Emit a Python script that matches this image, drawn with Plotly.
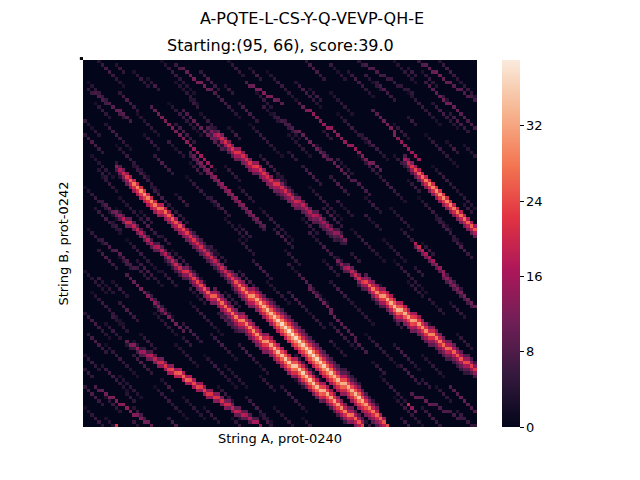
import numpy as np
import plotly.graph_objects as go

# Score matrix size (rows = String B, cols = String A)
n_rows = 105
n_cols = 112

title = "A-PQTE-L-CS-Y-Q-VEVP-QH-E"
subtitle = "Starting:(95, 66), score:39.0"
x_label = "String A, prot-0240"
y_label = "String B, prot-0242"
cbar_ticks = [0, 8, 16, 24, 32]
z_max = 39.0

# --- main alignment diagonals: core values read along each diagonal ---
sA = [14, 17, 20, 23, 26, 28, 29, 30, 30, 29, 29, 28, 28, 27, 27, 26, 26, 25, 25,
      24, 23, 22, 22, 21, 21, 20, 20, 20, 19, 19, 20, 20, 21, 23, 25, 27, 28, 29, 30, 31,
      32, 33, 33, 34, 34, 35, 36, 37, 37, 38, 38, 37, 37, 36, 36, 37, 37, 37, 36, 36, 35,
      35, 34, 34, 33, 33, 33, 33, 34, 35, 33, 31, 29, 28, 27, 26, 25, 24]
sA_p1 = [7, 10, 13, 16, 19, 21, 22, 23, 23, 22, 22, 21, 21, 20, 20, 19, 19, 18, 18,
         17, 16, 15, 15, 14, 14, 13, 13, 13, 12, 12, 13, 13, 14, 16, 18, 20, 21, 22, 23, 24,
         25, 26, 26, 27, 27, 28, 29, 30, 30, 31, 31, 30, 30, 29, 29, 30, 30, 30, 29, 29, 28,
         28, 27, 27, 26, 26, 26, 26, 27, 28, 26, 24, 22, 21, 20, 19, 18, 17]
sA_p2 = [1, 4, 7, 10, 13, 15, 16, 17, 17, 16, 16, 15, 15, 14, 14, 13, 13, 12, 12,
         11, 10, 9, 9, 8, 8, 7, 7, 7, 6, 6, 7, 7, 8, 10, 12, 14, 15, 16, 17, 18,
         19, 20, 20, 21, 21, 22, 23, 24, 24, 25, 25, 24, 24, 23, 23, 24, 24, 24, 23, 23, 22,
         22, 21, 21, 20, 20, 20, 20, 21, 22, 20, 18, 16, 15, 14, 13, 12]
sA_p3 = [4, 6, 8, 9, 10, 11, 12, 13, 14, 14, 15, 15, 16, 17, 18, 18, 19, 19, 18, 18, 17,
         17, 18, 18, 18, 17, 17, 16, 16, 15, 15, 14, 14, 14, 14, 15, 16, 14, 12, 10, 9, 8]
sA_m1 = [5, 8, 11, 14, 17, 19, 20, 21, 21, 20, 20, 19, 19, 18, 18, 17, 17, 16, 16,
         15, 14, 13, 13, 12, 12, 11, 11, 11, 10, 10, 11, 11, 12, 14, 16, 18, 19, 20, 21, 22,
         23, 24, 24, 25, 25, 26, 27, 28, 28, 29, 29, 28, 28, 27, 27, 28, 28, 28, 27, 27, 26,
         26, 25, 25, 24, 24, 24, 24, 25, 26, 24, 22, 20, 19, 18, 17, 16]
sA_m2 = [7, 9, 11, 12, 13, 14, 15, 16, 17, 17, 18, 18, 19, 20, 21, 21, 22, 22, 21, 21, 20,
         20, 21, 21, 21, 20, 20, 19, 19, 18, 18, 17, 17, 17, 17, 18, 19, 17, 15, 13, 12, 11]
sA_m3 = [8, 9, 9, 10, 10, 11, 12, 13, 13, 14, 14, 13, 13, 12, 12, 13, 13, 13, 12, 12, 11,
         11, 10, 10, 9, 9, 9, 9, 10, 11, 9, 7, 6, 5, 4]
sA_m4 = [5, 6, 6, 7, 7, 8, 8, 9, 9, 9, 8, 8, 8, 9, 9, 8, 8, 7, 7, 7, 6, 6, 6, 5, 5, 5]

sB = [12, 15, 18, 20, 20, 19, 19, 18, 18, 18, 17, 17, 18, 18, 18, 18, 19, 20, 20, 21, 22,
      22, 23, 24, 24, 25, 26, 26, 26, 27, 27, 27, 26, 27, 28, 28, 29, 29, 29, 30, 30, 30,
      30, 31, 32, 33, 34, 34, 35, 35, 35, 35, 35, 36, 35, 35, 35, 34, 34, 33, 33, 32, 32,
      31, 30, 29, 28, 27, 26, 25, 24]
sB_p1 = [4, 7, 10, 12, 12, 11, 11, 10, 10, 10, 9, 9, 10, 10, 10, 10, 11, 12, 12, 13, 14,
         14, 15, 16, 16, 17, 18, 18, 18, 19, 19, 19, 18, 19, 20, 20, 21, 21, 21, 22, 22, 22,
         22, 23, 24, 25, 26, 26, 27, 27, 27, 27, 27, 28, 27, 27, 27, 26, 26, 25, 25, 24, 24,
         23, 22, 21, 20, 19, 18, 17, 16]
sB_p2 = [4, 4, 5, 6, 6, 7, 8, 8, 9, 10, 10, 11, 12, 12, 12, 13, 13, 13, 12, 13, 14,
         14, 15, 15, 15, 16, 16, 16, 16, 17, 18, 19, 20, 20, 21, 21, 21, 21, 21, 22, 21, 21,
         21, 20, 20, 19, 19, 18, 18, 17, 16, 15, 14, 13, 12, 11, 10]
sB_p3 = [5, 6, 6, 7, 8, 8, 9, 9, 10, 10, 11, 11, 12, 12, 13, 13, 13, 13, 13, 14, 13, 13,
         13, 12, 12, 11, 11, 10, 10, 9, 9, 8, 8, 7, 6, 6]
sB_m1 = [2, 5, 8, 10, 10, 9, 9, 8, 8, 8, 7, 7, 8, 8, 8, 8, 9, 10, 10, 11, 12,
         12, 13, 14, 14, 15, 16, 16, 16, 17, 17, 17, 16, 17, 18, 18, 19, 19, 19, 20, 20, 20,
         20, 21, 22, 23, 24, 24, 25, 25, 25, 25, 25, 26, 25, 25, 25, 24, 24, 23, 23, 22, 22,
         21, 20, 19, 18, 17, 16, 15, 14]
sB_m2 = [9, 10, 10, 10, 9, 10, 11, 11, 12, 12, 12, 13, 13, 13, 13, 14, 15, 16, 17, 17, 18,
         18, 18, 18, 18, 19, 18, 18, 18, 17, 17, 16, 16, 15, 15, 14, 13, 12, 11, 10, 9, 8, 7]

p5 = [12, 14, 16, 18, 19, 20, 21, 22, 24, 26, 28, 29, 30, 31, 32, 33, 34, 34, 33, 33,
      32, 32, 31, 31, 30, 30, 29, 29, 28, 28, 27, 27, 26, 26, 25, 25, 24, 24, 23, 22]
p5_p1 = [4, 6, 8, 10, 11, 12, 13, 14, 16, 18, 20, 21, 22, 23, 24, 25, 26, 26, 25, 25,
         24, 24, 23, 23, 22, 22, 21, 21, 20, 20, 19, 19, 18, 18, 17, 17, 16, 16, 15, 14]
p5_p2 = [6, 7, 9, 11, 13, 14, 15, 16, 17, 18, 19, 19, 18, 18, 17, 17, 16, 16,
         15, 15, 14, 14, 13, 13, 12, 12, 11, 11, 10, 10, 9, 9, 8, 7]
p5_p3 = [5, 6, 7, 8, 9, 10, 11, 11, 12, 12, 11, 11, 10, 10, 10, 9, 9, 9, 8, 8, 8, 7, 7,
         6, 6, 6, 5, 5]
p5_m1 = [3, 5, 7, 9, 10, 11, 12, 13, 15, 17, 19, 20, 21, 22, 23, 24, 25, 25, 24, 24,
         23, 23, 22, 22, 21, 21, 20, 20, 19, 19, 18, 18, 17, 17, 16, 16, 15, 15, 14, 13]
p5_m2 = [8, 10, 12, 13, 14, 15, 16, 17, 18, 18, 17, 17, 16, 16, 15, 15,
         14, 14, 13, 13, 12, 12, 11, 11, 10, 10, 9, 9, 8, 8, 7, 6]

p6 = [16, 20, 22, 24, 26, 27, 28, 29, 29, 30, 30, 30, 29, 29, 28, 28, 27, 27, 26, 26, 25]
p6_p1 = [8, 12, 14, 16, 18, 19, 20, 21, 21, 22, 22, 22, 21, 21, 20, 20, 19, 19, 18, 18, 17]
p6_p2 = [5, 7, 9, 10, 11, 12, 13, 13, 14, 14, 14, 13, 13, 12, 12, 12, 11, 11, 10, 10]
p6_m1 = [8, 11, 13, 15, 17, 18, 19, 20, 20, 21, 21, 21, 20, 20, 19, 19, 18, 18, 17, 17, 16]
p6_pre = [8, 9, 10, 11, 12, 12, 12, 13, 13, 14, 14, 15, 15, 16, 16]

p7 = [8, 12, 16, 19, 20, 21, 21, 22, 22, 22, 21, 21, 22, 22, 23, 22, 22, 21, 21, 22,
      22, 21, 21, 20, 20, 20, 19, 19, 18, 18, 18, 17, 17, 16, 16, 15, 15, 14, 13, 12]
p7_p1 = [4, 7, 10, 13, 14, 15, 15, 16, 16, 16, 15, 15, 16, 16, 17, 16, 16, 15, 15, 16,
         16, 15, 15, 14, 14, 14, 13, 13, 12, 12, 12, 11, 11, 10, 10, 9, 9, 8, 7, 6]
p7_p2 = [3, 4, 6, 8, 9, 10, 10, 11, 11, 11, 10, 10, 11, 11, 12, 12, 11, 11, 10, 10, 11,
         11, 10, 10, 9, 9, 9, 8, 8, 8, 7, 7, 6, 6, 5, 5]
p7_m1 = [5, 8, 10, 12, 13, 13, 13, 14, 14, 13, 13, 13, 14, 14, 15, 14, 14, 13, 13, 13,
         12, 12, 12, 11, 11, 11, 10, 10, 10, 9, 9, 9, 8, 8, 8, 7, 7, 6]

p8 = [18, 20, 18, 17, 16, 16, 15, 15, 14, 14, 14, 13, 13, 12, 12, 12, 11, 11, 10]
p8_p1 = [10, 12, 11, 10, 10, 10, 9, 9, 9, 9, 8, 8, 8, 8, 7, 7, 7, 7]

l1 = [10, 12, 13, 14, 15, 16, 17, 18, 19, 20, 21, 22, 23, 24, 25, 26, 26, 26, 25,
      24, 24, 23, 23, 22, 22, 22, 21, 21, 20, 20, 19, 19, 18, 18, 17, 17, 16, 16, 15]
l1_p1 = [4, 5, 6, 7, 8, 9, 10, 11, 12, 13, 14, 15, 16, 17, 18, 18, 18, 17, 16, 16, 15,
         15, 14, 14, 14, 13, 13, 12, 12, 11, 11, 10, 10, 9, 9, 8]
l1_m1 = [3, 4, 5, 6, 7, 8, 9, 10, 11, 12, 13, 14, 15, 16, 17, 17, 17, 16, 15, 15, 14,
         14, 13, 13, 13, 12, 12, 11, 11, 10, 10, 9, 9, 8, 8, 7]
l2 = [8, 9, 10, 11, 12, 12, 13, 13, 14, 14, 13, 13, 12, 12, 11, 11, 10]

# --- secondary pink / purple diagonals ---
t1 = [8, 10, 11, 12, 12, 13, 13, 12, 12, 13, 14, 14, 15, 15, 16, 16, 15, 14]
t1b = [7, 8, 9, 10, 10, 10, 11, 10, 10, 9, 9, 8]
t2 = [8, 10, 11, 12, 12, 13, 12, 12, 11, 10, 9]
t2b = [6, 8, 9, 10, 11, 12, 12, 12, 11, 10, 9, 8, 7]
t3 = [8, 10, 12, 13, 14, 14, 14, 15, 15, 14, 14, 13, 13, 14, 14, 15, 15, 14, 13, 12, 12, 11, 10, 9]
t4 = [6, 7, 8, 9, 10, 10, 10, 11, 11, 10, 10, 10, 9, 9, 10, 10, 10, 9, 9, 8, 8, 8, 7, 7, 6]
t5 = [6, 8, 9, 10, 10, 11, 11, 10, 10, 10, 9, 9, 9, 8, 8, 7, 7]
t6 = [6, 8, 9, 10, 10, 9, 8, 7]
t7 = [5, 6, 7, 8, 8, 7, 6, 6, 5, 5, 5]
t8 = [5, 6, 7, 8, 8, 8, 7, 7, 6, 6, 6, 5, 5, 5, 5, 5]
t9 = [6, 8, 9, 10, 10, 11, 11, 11, 10, 10, 9, 9, 8, 8, 7]
m1a = [8, 10, 11, 12, 12, 13, 13, 14, 14, 14, 15, 15, 14, 14, 14, 13, 13, 12, 12, 11, 10, 9]
m1a_p1 = [6, 7, 8, 9, 9, 10, 10, 10, 10, 11, 11, 11, 10, 10, 10, 9, 9, 9, 8, 8, 7, 6]
m1b = [7, 8, 9, 9, 10, 10, 10, 11, 11, 11, 10, 10, 10, 10, 9, 9, 9, 9, 8, 8, 8, 7, 7]
m2 = [8, 9, 10, 11, 12, 12, 13, 13, 14, 14, 13, 13, 12, 12, 11, 10, 9]
m3 = [6, 8, 9, 10, 10, 9, 8, 7]
m4 = [6, 7, 8, 8, 9, 9, 8, 8, 7, 7, 6, 6, 5, 5]
r1 = [8, 10, 9, 9, 10, 10, 9, 9, 8, 8, 8, 7, 7, 7, 6, 6, 6, 5, 5]
r1_dot = [20, 14, 10]
r2 = [8, 9, 9, 10, 10, 9, 8, 8]
red_dot = [22]

# diagonals: name -> (row start, col start, row end, col end, values)
streaks = {
    'sA': (30, 9, 104, 86, sA), 'sB': (43, 9, 104, 79, sB),
    'p5': (57, 72, 88, 111, p5), 'p6': (28, 91, 48, 111, p6),
    'p7': (19, 35, 51, 74, p7), 'p8': (52, 94, 70, 111, p8),
    'l1': (80, 12, 104, 50, l1), 'l2': (93, 3, 104, 19, l2),
    'p6_pre': (14, 82, 28, 95, p6_pre),
    't1': (13, 19, 30, 36, t1), 't1b': (14, 28, 25, 39, t1b), 't2': (6, 46, 12, 56, t2),
    't2b': (1, 26, 10, 38, t2b), 't3': (12, 61, 31, 84, t3), 't4': (17, 57, 38, 81, t4),
    't5': (0, 95, 11, 111, t5), 't6': (11, 6, 17, 13, t6), 't7': (8, 1, 15, 11, t7),
    't8': (0, 78, 9, 93, t8), 't9': (6, 97, 19, 111, t9),
    'm1a': (26, 30, 47, 51, m1a), 'm1b': (61, 61, 83, 80, m1b), 'm2': (61, 12, 77, 28, m2),
    'm3': (40, 5, 47, 12, m3), 'm4': (51, 5, 62, 18, m4),
    'r1': (95, 93, 104, 111, r1), 'r1_dot': (98, 92, 100, 94, r1_dot),
    'r2': (93, 104, 100, 111, r2), 'red_dot': (104, 9, 104, 9, red_dot),
}

# neighbouring diagonals of a streak: (streak, row offset, first index, values)
bands = [
    ('sA', 1, 0, sA_p1), ('sA', 2, 0, sA_p2), ('sA', 3, 33, sA_p3),
    ('sA', -1, 0, sA_m1), ('sA', -2, 33, sA_m2), ('sA', -3, 40, sA_m3), ('sA', -4, 44, sA_m4),
    ('sB', 1, 0, sB_p1), ('sB', 2, 14, sB_p2), ('sB', 3, 30, sB_p3),
    ('sB', -1, 0, sB_m1), ('sB', -2, 28, sB_m2),
    ('p5', 1, 0, p5_p1), ('p5', 2, 6, p5_p2), ('p5', 3, 10, p5_p3),
    ('p5', -1, 0, p5_m1), ('p5', -2, 8, p5_m2),
    ('p6', 1, 0, p6_p1), ('p6', 2, 1, p6_p2), ('p6', -1, 0, p6_m1),
    ('p7', 1, 0, p7_p1), ('p7', 2, 3, p7_p2), ('p7', -1, 1, p7_m1),
    ('p8', 1, 0, p8_p1), ('l1', 1, 0, l1_p1), ('l1', -1, 2, l1_m1),
    ('m1a', 1, 0, m1a_p1),
]

# faint background diagonals (short runs of low scores)
fa = [3, 5, 6, 5, 4]
fb = [4, 6, 7, 7, 6, 5, 4, 3]
fc = [2, 4, 5, 6, 6, 5, 5, 4, 3, 3]
fd = [5, 7, 8, 7, 6, 5]
fe = [3, 4, 4, 5, 5, 4, 3]
fg = [4, 6, 5]
fh = [3, 5, 7, 5]
fi = [6, 4, 3, 5, 4]
faint = [
    (0, 4, fb), (0, 22, fc), (0, 41, fa), (0, 63, fd), (0, 88, fe), (0, 101, fb),
    (3, 14, fa), (3, 33, fd), (3, 52, fc), (3, 75, fb), (3, 96, fa),
    (6, 1, fc), (6, 26, fe), (6, 60, fb), (6, 83, fd), (6, 107, fa),
    (9, 10, fd), (9, 37, fb), (9, 49, fa), (9, 70, fe), (9, 92, fc),
    (12, 3, fa), (12, 24, fc), (12, 44, fd), (12, 99, fb),
    (15, 15, fe), (15, 33, fa), (15, 54, fb), (15, 72, fc), (15, 104, fd),
    (18, 6, fb), (18, 26, fd), (18, 47, fc), (18, 88, fa),
    (21, 0, fd), (21, 17, fa), (21, 58, fe), (21, 79, fb), (21, 97, fc),
    (24, 9, fc), (24, 30, fb), (24, 66, fa), (24, 108, fe),
    (27, 2, fe), (27, 20, fd), (27, 50, fb), (27, 78, fc), (27, 88, fa),
    (30, 14, fb), (30, 40, fa), (30, 62, fd), (30, 99, fc),
    (33, 5, fa), (33, 29, fc), (33, 55, fe), (33, 70, fd), (33, 84, fb),
    (36, 0, fc), (36, 19, fb), (36, 44, fa), (36, 64, fc), (36, 105, fe),
    (39, 10, fe), (39, 36, fd), (39, 58, fb), (39, 80, fa), (39, 95, fc),
    (42, 3, fb), (42, 25, fa), (42, 50, fc), (42, 68, fd), (42, 87, fe),
    (45, 16, fd), (45, 40, fe), (45, 62, fa), (45, 100, fb),
    (48, 1, fa), (48, 30, fb), (48, 54, fd), (48, 76, fc), (48, 90, fa),
    (51, 12, fc), (51, 44, fa), (51, 66, fb), (51, 85, fe), (51, 105, fd),
    (54, 4, fd), (54, 25, fc), (54, 57, fa), (54, 96, fb),
    (57, 15, fb), (57, 36, fe), (57, 48, fd), (57, 68, fa), (57, 88, fc),
    (60, 0, fe), (60, 22, fa), (60, 44, fb), (60, 60, fc), (60, 102, fd),
    (63, 8, fa), (63, 32, fd), (63, 52, fe), (63, 70, fb), (63, 92, fa),
    (66, 2, fc), (66, 18, fb), (66, 40, fa), (66, 58, fd), (66, 84, fc),
    (69, 10, fd), (69, 30, fc), (69, 48, fb), (69, 76, fe), (69, 104, fa),
    (72, 0, fb), (72, 20, fe), (72, 38, fd), (72, 64, fa), (72, 92, fc),
    (75, 6, fa), (75, 28, fd), (75, 46, fc), (75, 70, fb), (75, 98, fe),
    (78, 1, fd), (78, 16, fa), (78, 36, fb), (78, 56, fe), (78, 80, fc), (78, 106, fa),
    (81, 6, fc), (81, 26, fe), (81, 44, fd), (81, 66, fa), (81, 88, fb),
    (84, 0, fa), (84, 14, fd), (84, 34, fc), (84, 60, fb), (84, 96, fe),
    (87, 5, fb), (87, 24, fa), (87, 40, fe), (87, 70, fc), (87, 90, fd), (87, 108, fa),
    (90, 10, fe), (90, 30, fb), (90, 50, fa), (90, 64, fd), (90, 84, fc),
    (93, 0, fd), (93, 20, fc), (93, 38, fa), (93, 56, fb), (93, 76, fe), (93, 100, fa),
    (96, 6, fa), (96, 28, fe), (96, 46, fb), (96, 68, fd), (96, 88, fc),
    (99, 0, fc), (99, 14, fb), (99, 34, fa), (99, 54, fe), (99, 74, fd), (99, 96, fb),
    (102, 6, fe), (102, 24, fd), (102, 42, fa), (102, 62, fc), (102, 90, fb),
    # short specks between the runs above
    (1, 9, fg), (2, 47, fh), (1, 70, fi), (2, 92, fg), (5, 18, fh), (4, 80, fi),
    (7, 40, fg), (8, 64, fh), (10, 102, fi), (11, 30, fg), (13, 8, fh), (13, 51, fi),
    (16, 92, fg), (17, 0, fi), (19, 41, fh), (20, 68, fg), (23, 24, fi), (23, 103, fh),
    (26, 58, fg), (28, 72, fi), (29, 30, fh), (31, 4, fg), (32, 50, fi), (34, 92, fh),
    (35, 12, fi), (37, 54, fg), (38, 26, fh), (40, 72, fi), (41, 108, fg), (43, 16, fh),
    (44, 80, fi), (46, 8, fg), (47, 44, fh), (49, 64, fi), (50, 22, fg), (52, 96, fh),
    (53, 36, fi), (55, 76, fg), (56, 10, fh), (58, 58, fi), (59, 94, fg), (61, 40, fh),
    (62, 4, fi), (64, 84, fg), (65, 30, fi), (67, 66, fh), (68, 98, fi), (70, 20, fg),
    (71, 54, fh), (73, 8, fi), (74, 88, fg), (76, 58, fh), (77, 100, fi), (79, 28, fg),
    (80, 70, fi), (82, 16, fh), (83, 104, fg), (85, 48, fi), (86, 82, fh), (88, 0, fg),
    (89, 58, fi), (91, 22, fh), (91, 96, fg), (94, 66, fi), (95, 12, fg), (97, 78, fh),
    (98, 40, fi), (100, 106, fg), (101, 50, fh), (103, 14, fi), (103, 80, fg),
]

# build the score matrix from the diagonals
z = np.zeros((n_rows, n_cols))


def put(r, c, v):
    if 0 <= r < n_rows and 0 <= c < n_cols:
        z[r, c] = max(z[r, c], v)


def path(r0, c0, r1, c1, n):
    cells = []
    for i in range(n):
        t = i / (n - 1) if n > 1 else 0
        cells.append((int(round(r0 + (r1 - r0) * t)), int(round(c0 + (c1 - c0) * t))))
    return cells


paths = {}
for name, (r0, c0, r1, c1, vals) in streaks.items():
    paths[name] = path(r0, c0, r1, c1, len(vals))
    for (r, c), v in zip(paths[name], vals):
        put(r, c, v)

for name, dr, start, vals in bands:
    for (r, c), v in zip(paths[name][start:], vals):
        put(r + dr, c, v)

for r0, c0, vals in faint:
    for i, v in enumerate(vals):
        put(r0 + i, c0 + i, v)

# seaborn "rocket"
rocket = [
    [0.0, '#03051A'], [0.143, '#35193E'], [0.286, '#701F57'], [0.429, '#AD1759'],
    [0.571, '#E13342'], [0.714, '#F37651'], [0.857, '#F6B48F'], [1.0, '#FAEBDD'],
]

fig = go.Figure(go.Heatmap(
    z=z,
    colorscale=rocket,
    zmin=0, zmax=z_max,
    colorbar=dict(
        thickness=18, len=1, lenmode='fraction', y=0.5, yanchor='middle',
        x=1.063, xanchor='left', xpad=0, ypad=0,
        outlinewidth=0,
        tickvals=cbar_ticks, ticks='outside', ticklen=4, tickcolor='black',
        tickfont=dict(size=13, color='black'),
    ),
))

# page body adds an 8px offset, so margins are 8px smaller on the top/left
fig.update_layout(
    width=640, height=480,
    margin=dict(l=75, r=171, t=52, b=61),
    paper_bgcolor='white', plot_bgcolor='white',
    font=dict(family='DejaVu Sans', color='black'),
    title=dict(text=title, x=0.475, xanchor='center', xref='container',
               y=1 - 10 / 480, yanchor='middle', font=dict(size=16)),
    annotations=[dict(text=subtitle, xref='paper', yref='paper', x=0.5, y=1,
                      yshift=15, xanchor='center', yanchor='middle',
                      showarrow=False, font=dict(size=16))],
    shapes=[dict(type='rect', xref='paper', yref='paper', x0=-0.008, x1=0.0,
                 y0=1.0, y1=1.008, fillcolor='black', line_width=0)],
)
fig.update_xaxes(showticklabels=False, ticks='', showgrid=False, zeroline=False,
                 automargin=False,
                 title=dict(text=x_label, font=dict(size=13), standoff=6))
fig.update_yaxes(showticklabels=False, ticks='', showgrid=False, zeroline=False,
                 autorange='reversed', automargin=False,
                 title=dict(text=y_label, font=dict(size=13), standoff=10))

fig.write_html("out.html")
